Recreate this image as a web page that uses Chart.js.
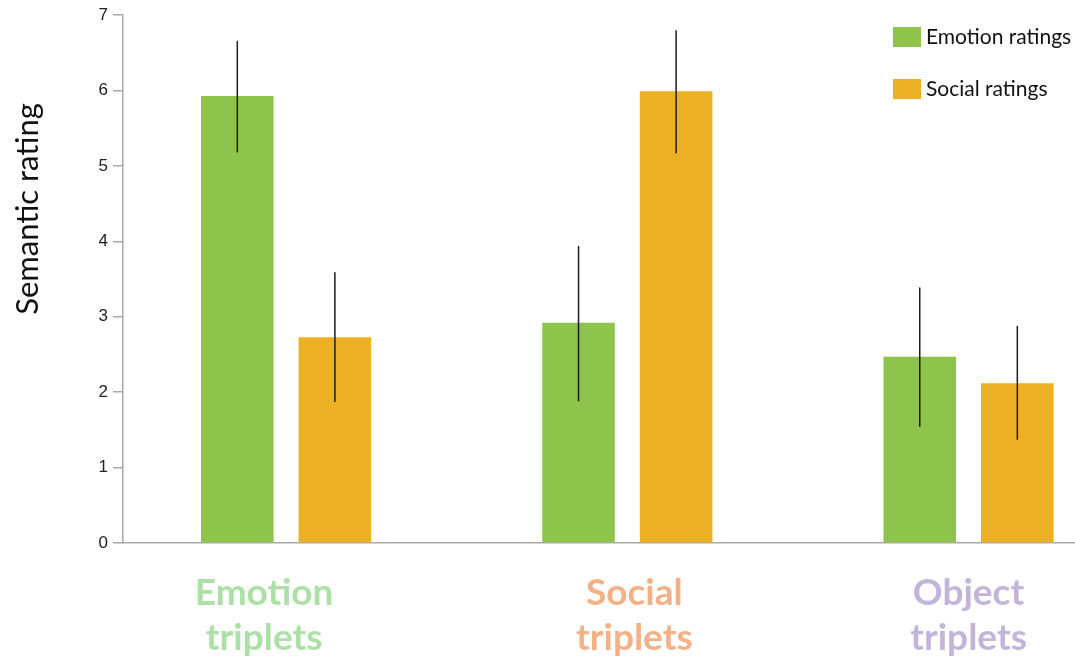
<!DOCTYPE html>
<html>
<head>
<meta charset="utf-8">
<script src="https://cdn.jsdelivr.net/npm/chart.js@4.4.1/dist/chart.umd.min.js"></script>
<style>
  html, body { margin: 0; padding: 0; background: #fff; overflow: hidden; }
  canvas { display: block; }
</style>
</head>
<body>
<canvas id="chart" width="1075" height="661"></canvas>
<script>
'use strict'

// categories and series
const categories = ['Emotion triplets', 'Social triplets', 'Object triplets'];
const categoryColors = ['#ace0a6', '#f4b185', '#c3b5da'];
const seriesNames = ['Emotion ratings', 'Social ratings'];
const seriesColors = ['#8fc44c', '#ebb023'];

const emotionRatings = [5.93, 2.92, 2.47];
const emotionLow = [5.18, 1.88, 1.54];
const emotionHigh = [6.66, 3.94, 3.39];

const socialRatings = [2.73, 5.99, 2.12];
const socialLow = [1.87, 5.17, 1.37];
const socialHigh = [3.59, 6.80, 2.88];

const yTicks = [0, 1, 2, 3, 4, 5, 6, 7];

const errLow = [emotionLow, socialLow];
const errHigh = [emotionHigh, socialHigh];

// the group captions sit a little off the group centres
const captionNudge = [-22, 7, 0];

const toPoints = (vals) => vals.map((v, i) => ({x: i, y: v}));

// whisker lines, captions, y title, legend box
const extrasPlugin = {
    id: 'extras',
    afterDatasetsDraw(chart) {
        const ctx = chart.ctx;
        const y = chart.scales.y;
        ctx.save();
        ctx.strokeStyle = '#1c1c1c';
        ctx.lineWidth = 1.5;
        chart.data.datasets.forEach((ds, d) => {
            const meta = chart.getDatasetMeta(d);
            meta.data.forEach((bar, i) => {
                ctx.beginPath();
                ctx.moveTo(bar.x, y.getPixelForValue(errHigh[d][i]));
                ctx.lineTo(bar.x, y.getPixelForValue(errLow[d][i]));
                ctx.stroke();
            });
        });
        ctx.restore();
    },
    afterDraw(chart) {
        const ctx = chart.ctx;
        const x = chart.scales.x;

        // group captions under the axis
        ctx.save();
        ctx.font = 'bold 37px Lato';
        ctx.textAlign = 'center';
        ctx.textBaseline = 'alphabetic';
        categories.forEach((cat, i) => {
            const cx = x.getPixelForValue(i) + captionNudge[i];
            ctx.fillStyle = categoryColors[i];
            cat.split(' ').forEach((line, l) => {
                ctx.fillText(line, cx, 605 + l * 45);
            });
        });
        ctx.restore();

        // y axis title
        ctx.save();
        ctx.translate(28, 209);
        ctx.rotate(-Math.PI / 2);
        ctx.fillStyle = '#111';
        ctx.font = '31px Lato';
        ctx.textAlign = 'center';
        ctx.textBaseline = 'middle';
        ctx.fillText('Semantic rating', 0, 0);
        ctx.restore();

        // legend
        ctx.save();
        ctx.font = '21px Lato';
        ctx.textBaseline = 'middle';
        chart.data.datasets.forEach((ds, d) => {
            const cy = 37 + d * 52;
            ctx.fillStyle = ds.backgroundColor;
            ctx.fillRect(893, cy - 10, 28, 20);
            ctx.fillStyle = '#111';
            ctx.fillText(ds.label, 926, cy);
        });
        ctx.restore();
    }
};

const ctx = document.getElementById('chart');
const chart = new Chart(ctx, {
    type: 'bar',
    data: {
        datasets: [
            {label: seriesNames[0], data: toPoints(emotionRatings), backgroundColor: seriesColors[0]},
            {label: seriesNames[1], data: toPoints(socialRatings), backgroundColor: seriesColors[1]}
        ]
    },
    options: {
        responsive: false,
        devicePixelRatio: 1,
        animation: false,
        categoryPercentage: 0.572,
        barPercentage: 0.744,
        layout: {padding: {top: 15, left: 0, right: 0, bottom: 0}},
        plugins: {
            legend: {display: false},
            tooltip: {enabled: false}
        },
        scales: {
            x: {
                type: 'linear',
                offset: false,
                min: -0.478,
                max: 2.312,
                afterBuildTicks: (scale) => {
                    scale.ticks = categories.map((c, i) => ({value: i}));
                },
                afterFit: (scale) => { scale.height = 118; },
                grid: {display: false, offset: false},
                border: {display: true, color: '#a9a9a9', width: 1.5},
                ticks: {display: false}
            },
            y: {
                min: 0,
                max: 7,
                afterBuildTicks: (scale) => {
                    scale.ticks = yTicks.map(v => ({value: v}));
                },
                afterFit: (scale) => { scale.width = 123; },
                grid: {drawOnChartArea: false, drawTicks: true, tickLength: 10, color: '#a9a9a9', lineWidth: 1.5},
                border: {display: true, color: '#a9a9a9', width: 1.5},
                ticks: {
                    padding: 5,
                    font: {family: 'Liberation Sans', size: 17},
                    color: '#222'
                }
            }
        }
    },
    plugins: [extrasPlugin]
});
</script>
</body>
</html>
